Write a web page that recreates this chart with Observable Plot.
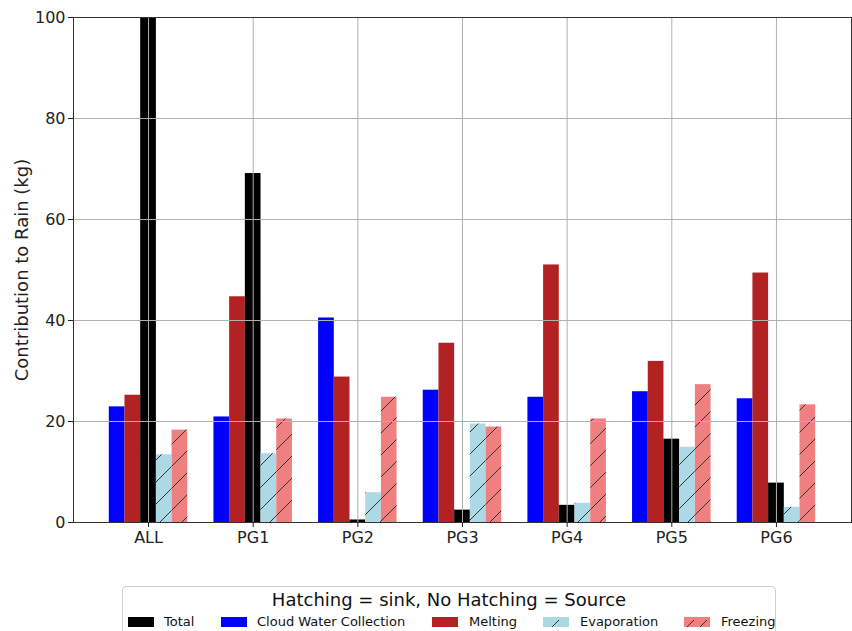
<!DOCTYPE html>
<html><head><meta charset="utf-8">
<script src="https://cdn.jsdelivr.net/npm/d3@7"></script>
<script src="https://cdn.jsdelivr.net/npm/@observablehq/plot@0.6"></script>
<style>
body{margin:0;background:#fff;font-family:"DejaVu Sans",sans-serif;overflow:hidden;width:852px;height:631px}
#legend{position:absolute;left:122px;top:586px;width:654px;height:60px;border:1px solid #d0d0d0;border-radius:4px;box-sizing:border-box;background:#fff}
#legend .ttl{text-align:center;font-size:18px;color:#111;margin-top:2px;line-height:22px}
#legend .item{position:absolute;top:27px;font-size:13px;color:#111;line-height:16px;white-space:nowrap}
#legend .sw{position:absolute;top:30px;width:26px;height:10px;overflow:hidden}
#legend .sw svg{display:block}
</style></head><body><div id="chart"></div><div id="legend"></div>
<script>
const groups = ["ALL","PG1","PG2","PG3","PG4","PG5","PG6"];
const seriesNames = ["Cloud Water Collection","Melting","Total","Evaporation","Freezing"];
const cloudWater = [22.9,20.9,40.5,26.2,24.8,25.9,24.5];
const melting = [25.2,44.7,28.8,35.5,51.0,31.9,49.4];
const total = [100,69.1,0.5,2.45,3.4,16.5,7.8];
const evaporation = [13.4,13.6,5.9,19.5,3.8,14.9,3.0];
const freezing = [18.3,20.5,24.8,18.9,20.5,27.3,23.3];
const yTicks = [0,20,40,60,80,100];
const legendOrder = ["Total","Cloud Water Collection","Melting","Evaporation","Freezing"];
const yLabel = "Contribution to Rain (kg)";

const seriesValues = [cloudWater, melting, total, evaporation, freezing];
const fills = ["#0000ff","#b22222","#000000","url(#hatchEvap)","url(#hatchFreeze)"];
const swatchFill = {"Cloud Water Collection":"#0000ff","Melting":"#b22222","Total":"#000000","Evaporation":"#add8e6","Freezing":"#f08080"};
const barW = 0.15;

const marks = [];
seriesNames.forEach((name, si) => {
  const rows = groups.map((g, gi) => ({g, gi, v: seriesValues[si][gi]}));
  marks.push(Plot.rectY(rows, {
    x1: d => d.gi + (si - 2.5) * barW,
    x2: d => d.gi + (si - 1.5) * barW,
    y1: 0, y2: d => Math.min(d.v, 100),
    fill: fills[si], inset: 0
  }));
});
marks.push(Plot.ruleY(yTicks, {stroke: "#b0b0b0", strokeWidth: 1}));
marks.push(Plot.ruleX(d3.range(groups.length), {stroke: "#b0b0b0", strokeWidth: 1}));
marks.push(Plot.frame({stroke: "#333", strokeWidth: 1}));
marks.push(Plot.axisY({ticks: yTicks, tickSize: 5, tickPadding: 3, fontSize: 16, label: null}));
marks.push(Plot.axisX({ticks: d3.range(groups.length), tickFormat: i => groups[i], tickSize: 5, tickPadding: 4, fontSize: 16, label: null}));
marks.push(Plot.text([yLabel], {frameAnchor: "left", rotate: -90, dx: -51, fontSize: 18, fill: "#222", textAnchor: "middle"}));

const plot = Plot.plot({
  width: 852, height: 575,
  marginLeft: 73, marginRight: 1, marginTop: 17, marginBottom: 53,
  style: {fontFamily: "DejaVu Sans, sans-serif", color: "#222", background: "#fff"},
  x: {type: "linear", domain: [-0.717, groups.length - 1 + 0.717]},
  y: {domain: [0, 100]},
  marks
});
const defs = d3.select(plot).insert("defs", ":first-child");
function hatch(id, bg) {
  const p = defs.append("pattern").attr("id", id).attr("patternUnits", "userSpaceOnUse")
    .attr("width", 22).attr("height", 22);
  p.append("rect").attr("width", 22).attr("height", 22).attr("fill", bg);
  p.append("path").attr("d", "M0,22L22,0M-3,3L3,-3M19,25L25,19").attr("stroke", "#333").attr("stroke-width", 1);
}
hatch("hatchEvap", "#add8e6");
hatch("hatchFreeze", "#f08080");
document.getElementById("chart").appendChild(plot);

const lg = document.getElementById("legend");
lg.innerHTML = '<div class="ttl">Hatching = sink, No Hatching = Source</div>';
const swX = [5, 98, 309, 420, 561];
const txX = [41, 134, 346, 457, 598];
legendOrder.forEach((name, i) => {
  const sw = document.createElement("div");
  sw.className = "sw"; sw.style.left = swX[i] + "px";
  if (name === "Evaporation" || name === "Freezing") {
    sw.innerHTML = '<svg width="26" height="10"><rect width="26" height="10" fill="' + swatchFill[name] + '"/>' +
      (name === "Freezing" ? '<path d="M3,10L10,3M16,10L23,3" stroke="#333"/>' : '<path d="M9,10L16,3" stroke="#333"/>') + '</svg>';
  } else sw.style.background = swatchFill[name];
  lg.appendChild(sw);
  const t = document.createElement("div");
  t.className = "item"; t.style.left = txX[i] + "px"; t.textContent = name;
  lg.appendChild(t);
});
</script></body></html>
